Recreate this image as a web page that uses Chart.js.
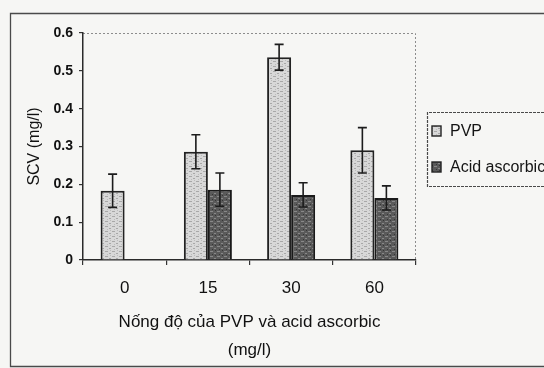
<!DOCTYPE html>
<html><head><meta charset="utf-8">
<script src="https://cdn.jsdelivr.net/npm/chart.js@4"></script>
<style>html,body{margin:0;padding:0;background:#f6f6f4;overflow:hidden;}</style>
</head><body>
<canvas id="c" width="544" height="368" style="display:block;width:544px;height:368px"></canvas>
<script>
// ---- data ----
const categories = ['0', '15', '30', '60'];
const pvpValues  = [0.183, 0.286, 0.536, 0.290];
const pvpErrors  = [0.044, 0.045, 0.034, 0.060];
const acidValues = [null, 0.186, 0.172, 0.164];
const acidErrors = [null, 0.044, 0.032, 0.032];
const yTickValues = [0, 0.1, 0.2, 0.3, 0.4, 0.5, 0.6];
const seriesLabels = ['PVP', 'Acid ascorbic'];
const xTitle = ['Nống độ của PVP và acid ascorbic', '(mg/l)'];
const yTitle = 'SCV (mg/l)';

const FONT = "'Liberation Sans', Arial, sans-serif";
const canvas = document.getElementById('c');
const mainCtx = canvas.getContext('2d');

function makePattern(base, dot, dot2) {
  const c = document.createElement('canvas');
  c.width = 7; c.height = 5;
  const x = c.getContext('2d');
  x.fillStyle = base; x.fillRect(0, 0, 7, 5);
  x.fillStyle = dot;
  x.fillRect(0, 1, 3, 1);
  x.fillRect(4, 3, 2, 1);
  x.fillStyle = dot2;
  x.fillRect(5, 0, 1, 1);
  x.fillRect(2, 4, 1, 1);
  return mainCtx.createPattern(c, 'repeat');
}
const pvpFill = makePattern('#d8d8d8', '#a8a8a8', '#bcbcbc');
const acidFill = makePattern('#5a5a5a', '#888888', '#363636');

const bgPlugin = {
  id: 'bg',
  beforeDraw(chart) {
    const ctx = chart.ctx, a = chart.chartArea;
    ctx.save();
    ctx.fillStyle = '#f6f6f4';
    ctx.fillRect(0, 0, chart.width, chart.height);
    // outer frame
    ctx.strokeStyle = '#4a4a4a';
    ctx.lineWidth = 1.3;
    ctx.beginPath();
    ctx.moveTo(560, 13.5); ctx.lineTo(10.5, 13.5); ctx.lineTo(10.5, 366.5); ctx.lineTo(560, 366.5);
    ctx.stroke();
    // plot area top/right dotted border
    ctx.strokeStyle = '#8c8c8c';
    ctx.lineWidth = 1;
    ctx.setLineDash([2, 2]);
    ctx.beginPath();
    ctx.moveTo(a.left, a.top + 0.5); ctx.lineTo(a.right - 0.5, a.top + 0.5); ctx.lineTo(a.right - 0.5, a.bottom);
    ctx.stroke();
    ctx.restore();
  }
};

const errPlugin = {
  id: 'errbars',
  afterDatasetsDraw(chart) {
    const ctx = chart.ctx, y = chart.scales.y;
    chart.data.datasets.forEach((ds, i) => {
      const meta = chart.getDatasetMeta(i);
      meta.data.forEach((bar, j) => {
        const v = ds.data[j], e = ds.errors[j];
        if (v == null || e == null) return;
        const x = bar.x;
        const yt = y.getPixelForValue(v + e), yb = y.getPixelForValue(v - e);
        ctx.save();
        ctx.strokeStyle = '#1c1c1c';
        ctx.lineWidth = 1.6;
        ctx.beginPath();
        ctx.moveTo(x, yt); ctx.lineTo(x, yb);
        ctx.moveTo(x - 4.5, yt); ctx.lineTo(x + 4.5, yt);
        ctx.moveTo(x - 4.5, yb); ctx.lineTo(x + 4.5, yb);
        ctx.stroke();
        ctx.restore();
      });
    });
  }
};

const legendPlugin = {
  id: 'customLegend',
  afterDraw(chart) {
    const ctx = chart.ctx;
    ctx.save();
    ctx.strokeStyle = '#4a4a4a';
    ctx.lineWidth = 1.2;
    ctx.setLineDash([3, 1]);
    ctx.beginPath();
    ctx.moveTo(560, 112.5); ctx.lineTo(427.5, 112.5); ctx.lineTo(427.5, 186.5); ctx.lineTo(560, 186.5);
    ctx.stroke();
    ctx.setLineDash([]);
    const rows = [131, 167];
    chart.data.datasets.forEach((ds, i) => {
      const cy = rows[i];
      ctx.fillStyle = ds.backgroundColor;
      ctx.fillRect(432, cy - 5, 9, 10);
      ctx.strokeStyle = '#222';
      ctx.lineWidth = 1.4;
      ctx.strokeRect(432, cy - 5, 9, 10);
      ctx.fillStyle = '#141414';
      ctx.font = '16px ' + FONT;
      ctx.textBaseline = 'middle';
      ctx.textAlign = 'left';
      ctx.fillText(ds.label, 450, cy + 1);
    });
    ctx.restore();
  }
};

new Chart(canvas, {
  type: 'bar',
  data: {
    labels: categories,
    datasets: [
      { label: seriesLabels[0], data: pvpValues, errors: pvpErrors, backgroundColor: pvpFill, borderColor: '#222', borderWidth: 2 },
      { label: seriesLabels[1], data: acidValues, errors: acidErrors, backgroundColor: acidFill, borderColor: '#1a1a1a', borderWidth: 2 }
    ]
  },
  options: {
    responsive: false,
    animation: false,
    devicePixelRatio: 1,
    layout: { padding: { left: 10, top: 33, right: 128, bottom: 0 } },
    plugins: { legend: { display: false }, tooltip: { enabled: false } },
    datasets: { bar: { categoryPercentage: 0.577, barPercentage: 1.0 } },
    scales: {
      x: {
        grid: { display: true, drawOnChartArea: false, drawTicks: true, tickLength: 5, color: '#333', offset: true, lineWidth: 1.2 },
        border: { display: true, color: '#2a2a2a', width: 1.5 },
        ticks: { color: '#111', font: { family: FONT, size: 17 }, padding: 13 },
        title: { display: true, text: xTitle, color: '#111', font: { family: FONT, size: 17, lineHeight: '28px' }, padding: { top: 0, bottom: 4 } },
        afterFit(scale) { scale.height = 108; }
      },
      y: {
        min: 0, max: 0.6,
        afterBuildTicks(scale) { scale.ticks = yTickValues.map(v => ({ value: v })); },
        grid: { display: true, drawOnChartArea: false, drawTicks: true, tickLength: 4, color: '#333', lineWidth: 1.2 },
        border: { display: true, color: '#2a2a2a', width: 1.5 },
        ticks: { color: '#111', font: { family: FONT, size: 14, weight: 'bold' }, padding: 6, callback: (v) => String(v) },
        title: { display: true, text: yTitle, color: '#111', font: { family: FONT, size: 16 }, padding: { top: 15, bottom: 0 } },
        afterFit(scale) { scale.width = 73; }
      }
    }
  },
  plugins: [bgPlugin, errPlugin, legendPlugin]
});
</script>
</body></html>
